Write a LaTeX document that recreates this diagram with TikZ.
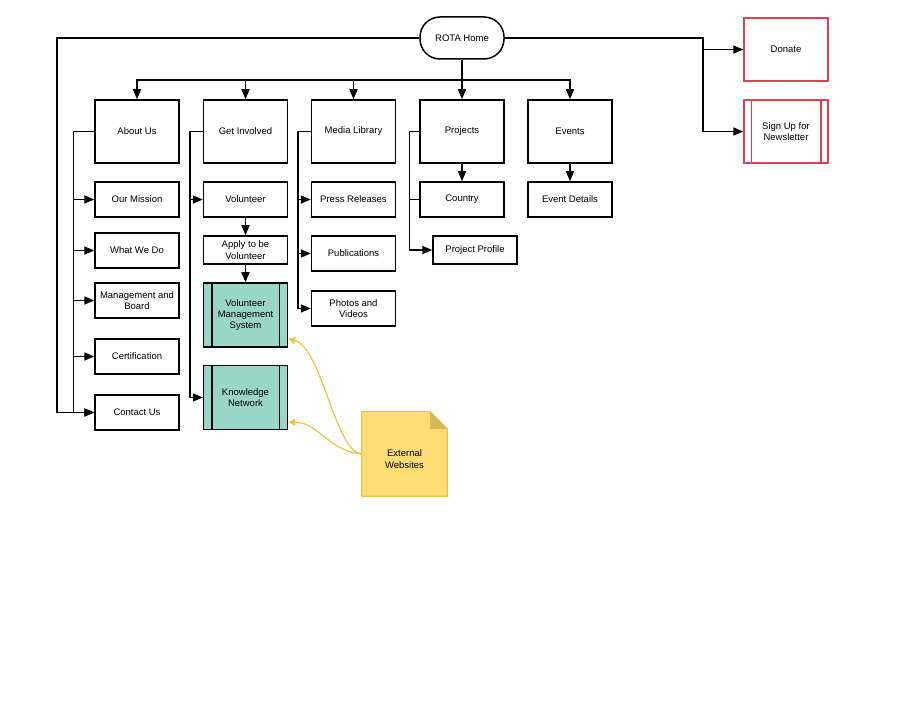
\documentclass[tikz,border=0pt]{standalone}
\usepackage{fontspec}
\setmainfont{Liberation Sans}
\usetikzlibrary{arrows.meta}
\definecolor{tealfill}{HTML}{9AD5CA}
\definecolor{redline}{HTML}{E0434F}
\definecolor{notefill}{HTML}{FFDD73}
\definecolor{noteline}{HTML}{E9C54E}
\definecolor{notefold}{HTML}{D6B95A}
\definecolor{yline}{HTML}{F7C140}
\begin{document}
\begin{tikzpicture}[x=1pt,y=-1pt,
  base/.style={draw=black, line width=1.5pt, inner sep=1pt, align=center,
    font=\fontsize{9.5}{11.3}\selectfont, minimum width=84pt},
  big/.style={base, minimum height=63pt},
  small/.style={base, minimum height=35pt},
  thin/.style={base, minimum height=28pt},
  tealbox/.style={base, fill=tealfill, minimum height=64pt},
  redbox/.style={base, draw=redline, minimum height=63pt},
  pill/.style={base, rounded corners=20pt, minimum height=42pt},
  arr/.style={line width=1.5pt, -{Triangle[length=10pt,width=8pt]}},
  ln/.style={line width=1.5pt},
  yarr/.style={draw=yline, line width=1.2pt, -{Triangle[length=7pt,width=7pt]}}]
\useasboundingbox (0,0) rectangle (924,714);

% nodes
\node[pill] (home) at (462,38) {ROTA Home};
\node[redbox] (donate) at (786,49.5) {Donate};
\node[redbox] (news) at (786,131.5) {Sign Up for\\Newsletter};
\draw[redline, line width=1.5pt] ([xshift=8pt]news.north west) -- ([xshift=8pt]news.south west)
  ([xshift=-8pt]news.north east) -- ([xshift=-8pt]news.south east);

\node[big] (about) at (137,131.5) {About Us};
\node[big] (get) at (245.5,131.5) {Get Involved};
\node[big] (media) at (353.5,131.5) {Media Library};
\node[big] (proj) at (462,131.5) {Projects};
\node[big] (events) at (570,131.5) {Events};

\node[small] (mission) at (137,199.5) {Our Mission};
\node[small] (what) at (137,250.5) {What We Do};
\node[small] (mgmt) at (137,300.5) {Management and\\Board};
\node[small] (cert) at (137,356.5) {Certification};
\node[small] (contact) at (137,412.5) {Contact Us};

\node[small] (vol) at (245.5,199.5) {Volunteer};
\node[thin] (apply) at (245.5,250) {Apply to be\\Volunteer};
\node[tealbox] (vms) at (245.5,315) {Volunteer\\Management\\System};
\node[tealbox] (kn) at (245.5,397.5) {Knowledge\\Network};
\foreach \n in {vms,kn}{
  \draw[line width=1.5pt] ([xshift=9pt]\n.north west) -- ([xshift=9pt]\n.south west)
    ([xshift=-9pt]\n.north east) -- ([xshift=-9pt]\n.south east);
}

\node[small] (press) at (353.5,199.5) {Press Releases};
\node[small] (pubs) at (353.5,253.5) {Publications};
\node[small] (photos) at (353.5,308.5) {Photos and\\Videos};

\node[small] (country) at (462,199.5) {Country};
\node[thin] (pp) at (475,250) {Project Profile};

\node[small] (details) at (570,199.5) {Event Details};

% External websites note
\node[minimum width=85pt, minimum height=84pt, inner sep=0pt] (ext) at (404.5,454) {};
\coordinate (f1) at ([xshift=-17pt]ext.north east);
\coordinate (f2) at ([yshift=-17pt]ext.north east);
\coordinate (f3) at ([xshift=-17pt,yshift=-17pt]ext.north east);
\draw[fill=notefill, draw=noteline, line width=1.2pt] (ext.north west) -- (f1) -- (f2) -- (ext.south east) -- (ext.south west) -- cycle;
\fill[notefold] (f1) -- (f2) -- (f3) -- cycle;
\node[align=center, font=\fontsize{9.5}{11.3}\selectfont] at ([yshift=-5pt]ext.center) {External\\Websites};

% connectors from home
\coordinate (bus) at (462,80);
\draw[ln] (home.south) -- (bus);
\foreach \n in {about,get,media,proj,events}{
  \draw[arr] (bus) -| (\n.north);
}
\coordinate (lft) at (57,38);
\draw[arr] (home.west) -- (lft) |- (contact.west);
\coordinate (rgt) at (703,38);
\draw[arr] (home.east) -- (rgt) |- (donate.west);
\draw[arr] (home.east) -- (rgt) |- (news.west);

% about us bus
\foreach \n in {mission,what,mgmt,cert,contact}{
  \draw[arr] (about.west) -- ++(-21,0) |- (\n.west);
}
% get involved
\foreach \n in {vol,kn}{
  \draw[arr] (get.west) -- ++(-13,0) |- (\n.west);
}
\draw[arr] (vol.south) -- (apply.north);
\draw[arr] (apply.south) -- (vms.north);
% media
\foreach \n in {press,pubs,photos}{
  \draw[arr] (media.west) -- ++(-13,0) |- (\n.west);
}
% projects
\draw[ln] (proj.west) -- ++(-10,0) |- (country.west);
\draw[arr] (proj.west) -- ++(-10,0) |- (pp.west);
\draw[arr] (proj.south) -- (country.north);
% events
\draw[arr] (events.south) -- (details.north);

% yellow links
\draw[yarr] (ext.west) .. controls (335,452) and (322,348) .. ([yshift=9pt]vms.south east);
\draw[yarr] (ext.west) .. controls (330,452) and (318,422) .. ([yshift=8pt]kn.south east);
\end{tikzpicture}
\end{document}
